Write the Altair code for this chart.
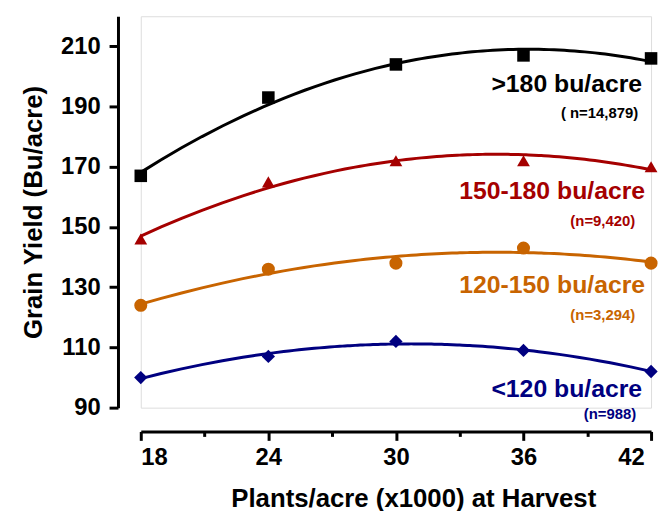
import altair as alt
import pandas as pd

# ---- data ----
density = [18, 24, 30, 36, 42]
series_names = [">180 bu/acre", "150-180 bu/acre", "120-150 bu/acre", "<120 bu/acre"]
n_labels = ["( n=14,879)", "(n=9,420)", "(n=3,294)", "(n=988)"]
yield_gt180 = [167, 193, 204, 207, 206]
yield_150_180 = [146, 165, 172, 172, 170]
yield_120_150 = [124, 136, 138, 143, 138]
yield_lt120 = [100, 107, 112, 109, 102]
x_ticks = [18, 21, 24, 27, 30, 33, 36, 39, 42]
y_ticks = [90, 100, 110, 120, 130, 140, 150, 160, 170, 180, 190, 200, 210, 220]

# ---- styles ----
colors = ["#000000", "#A50000", "#C86400", "#000080"]
shapes = ["square", "triangle-up", "circle", "diamond"]
sizes = [160, 180, 160, 130]
label_dx = [-9, -6, -6, -9]
label_dy = [26, 25, 22, 18]
n_dx = [-13, -16, -16, -15]
n_dy = [55, 55, 52, 43]
FONT = "Liberation Sans"

all_series = [yield_gt180, yield_150_180, yield_120_150, yield_lt120]
rows = []
for name, ys in zip(series_names, all_series):
    for x, y in zip(density, ys):
        rows.append({"series": name, "density": x, "yield": y})
df = pd.DataFrame(rows)

x_scale = alt.Scale(domain=[18, 42], nice=False, zero=False)
y_scale = alt.Scale(domain=[90, 220], nice=False, zero=False)
color_scale = alt.Scale(domain=series_names, range=colors)
shape_scale = alt.Scale(domain=series_names, range=shapes)
size_scale = alt.Scale(domain=series_names, range=sizes)

x_axis = alt.Axis(
    values=x_ticks,
    labelExpr="datum.value % 6 == 0 ? datum.label : ''",
    title="Plants/acre (x1000) at Harvest",
    offset=24,
    grid=False,
    domainColor="black", domainWidth=3,
    tickColor="black", tickWidth=3,
    tickSize={"condition": {"test": "datum.value % 6 == 0", "value": 9}, "value": 5},
    labelFont=FONT, labelFontSize=24, labelFontWeight="bold", labelColor="black",
    labelPadding=5,
    labelOffset={"condition": {"test": "datum.value == 42", "value": -7}, "value": 0},
    titleFont=FONT, titleFontSize=26, titleFontWeight="bold", titleColor="black",
    titlePadding=17,
    titleX=275, titleAlign="center",
)
y_axis = alt.Axis(
    values=y_ticks,
    labelExpr="(datum.value - 90) % 20 == 0 && datum.value <= 210 ? datum.label : ''",
    title="Grain Yield (Bu/acre)",
    offset=23,
    grid=False,
    domainColor="black", domainWidth=3,
    tickColor="black", tickWidth=3,
    tickSize={"condition": {"test": "(datum.value - 90) % 20 == 0", "value": 9}, "value": 5},
    labelFont=FONT, labelFontSize=24, labelFontWeight="bold", labelColor="black",
    labelPadding=9,
    titleFont=FONT, titleFontSize=26, titleFontWeight="bold", titleColor="black",
    titlePadding=14,
)

base = alt.Chart(df)

lines = base.transform_regression(
    "density", "yield", method="poly", order=2, groupby=["series"], extent=[18, 42]
).mark_line(strokeWidth=3, clip=False).encode(
    x=alt.X("density:Q", scale=x_scale, axis=x_axis),
    y=alt.Y("yield:Q", scale=y_scale, axis=y_axis),
    color=alt.Color("series:N", scale=color_scale, legend=None),
    detail="series:N",
)

points = base.mark_point(filled=True, opacity=1).encode(
    x=alt.X("density:Q", scale=x_scale),
    y=alt.Y("yield:Q", scale=y_scale),
    color=alt.Color("series:N", scale=color_scale, legend=None),
    shape=alt.Shape("series:N", scale=shape_scale, legend=None),
    size=alt.Size("series:N", scale=size_scale, legend=None),
)

layers = [lines, points]
for i, name in enumerate(series_names):
    last = base.transform_filter(
        (alt.datum.series == name) & (alt.datum.density == density[-1])
    )
    layers.append(
        last.mark_text(
            align="right", baseline="middle", dx=label_dx[i], dy=label_dy[i],
            font=FONT, fontSize=25, fontWeight="bold", color=colors[i],
        ).encode(
            x=alt.X("density:Q", scale=x_scale),
            y=alt.Y("yield:Q", scale=y_scale),
            text=alt.value(name),
        )
    )
    layers.append(
        last.mark_text(
            align="right", baseline="middle", dx=n_dx[i], dy=n_dy[i],
            font=FONT, fontSize=15, fontWeight="bold", color=colors[i],
        ).encode(
            x=alt.X("density:Q", scale=x_scale),
            y=alt.Y("yield:Q", scale=y_scale),
            text=alt.value(n_labels[i]),
        )
    )

chart = alt.layer(*layers).properties(
    width=515, height=395,
    padding={"left": 12, "top": 6, "right": 0, "bottom": 0},
).configure_view(stroke=None).configure(background="white")

chart.save("out.html", embed_options={"renderer": "svg", "actions": False})
